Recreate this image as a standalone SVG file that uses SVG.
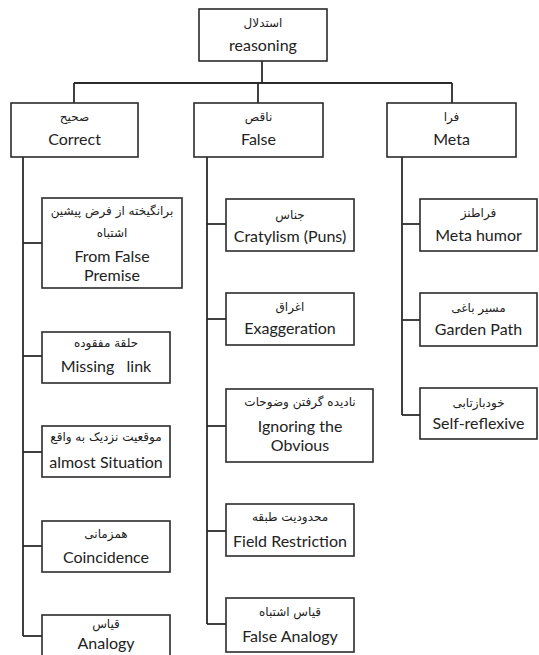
<svg xmlns="http://www.w3.org/2000/svg" width="539" height="655" viewBox="0 0 539 655">
<style>
rect{fill:#fff;stroke:#2b2b2b;stroke-width:1.6}
.c line{stroke:#2b2b2b;stroke-width:1.8;fill:none}
.en{font-family:Lato,"Open Sans","Liberation Sans",sans-serif;font-size:16px;fill:#222;text-anchor:middle}
.fa{font-family:"DejaVu Sans",sans-serif;font-size:12px;fill:#222;text-anchor:middle}
</style>
<rect x="0" y="0" width="539" height="655" style="fill:#fff;stroke:none"/>
<g class="c" id="connectors">
<line x1="262" y1="61" x2="262" y2="83"/>
<line x1="74" y1="83" x2="452" y2="83"/>
<line x1="74" y1="83" x2="74" y2="103"/>
<line x1="258" y1="83" x2="258" y2="103"/>
<line x1="452" y1="83" x2="452" y2="103"/>
<line x1="23" y1="157" x2="23" y2="636"/>
<line x1="23" y1="243" x2="42" y2="243"/>
<line x1="23" y1="356" x2="42" y2="356"/>
<line x1="23" y1="452" x2="42" y2="452"/>
<line x1="23" y1="546" x2="42" y2="546"/>
<line x1="23" y1="636" x2="42" y2="636"/>
<line x1="207" y1="157" x2="207" y2="624"/>
<line x1="207" y1="224" x2="226" y2="224"/>
<line x1="207" y1="319" x2="226" y2="319"/>
<line x1="207" y1="426" x2="226" y2="426"/>
<line x1="207" y1="531" x2="226" y2="531"/>
<line x1="207" y1="624" x2="226" y2="624"/>
<line x1="402" y1="157" x2="402" y2="415"/>
<line x1="402" y1="224" x2="420" y2="224"/>
<line x1="402" y1="320" x2="420" y2="320"/>
<line x1="402" y1="415" x2="420" y2="415"/>
</g>
<g id="root">
<rect x="199" y="9" width="128" height="52"/>
<text class="fa" x="263" y="27">استدلال</text>
<text class="en" x="263" y="51">reasoning</text>
</g>
<g id="correct">
<rect x="11" y="103" width="127" height="54"/>
<text class="fa" x="74.5" y="121">صحیح</text>
<text class="en" x="74.5" y="145">Correct</text>
</g>
<g id="false">
<rect x="194" y="103" width="129" height="54"/>
<text class="fa" x="258.5" y="121">ناقص</text>
<text class="en" x="258.5" y="145">False</text>
</g>
<g id="meta">
<rect x="387" y="103" width="129" height="54"/>
<text class="fa" x="451.5" y="121">فرا</text>
<text class="en" x="451.5" y="145">Meta</text>
</g>
<g id="from-false-premise">
<rect x="42" y="198" width="140" height="90"/>
<text class="fa" x="112" y="215">برانگیخته از فرض پیشین</text>
<text class="fa" x="112" y="237">اشتباه</text>
<text class="en" x="112" y="262">From False</text>
<text class="en" x="112" y="281">Premise</text>
</g>
<g id="missing-link">
<rect x="42" y="332" width="128" height="51"/>
<text class="fa" x="106" y="347">حلقة مفقوده</text>
<text class="en" x="106" y="372" xml:space="preserve">Missing   link</text>
</g>
<g id="almost-situation">
<rect x="42" y="426" width="128" height="51"/>
<text class="fa" x="106" y="441">موقعیت نزدیک به واقع</text>
<text class="en" x="106" y="468">almost Situation</text>
</g>
<g id="coincidence">
<rect x="42" y="521" width="128" height="51"/>
<text class="fa" x="106" y="538">همزمانی</text>
<text class="en" x="106" y="563">Coincidence</text>
</g>
<g id="analogy">
<rect x="42" y="615" width="128" height="50"/>
<text class="fa" x="106" y="628">قیاس</text>
<text class="en" x="106" y="649">Analogy</text>
</g>
<g id="cratylism">
<rect x="226" y="199" width="128" height="52"/>
<text class="fa" x="290" y="219">جناس</text>
<text class="en" x="290" y="242">Cratylism (Puns)</text>
</g>
<g id="exaggeration">
<rect x="226" y="293" width="128" height="52"/>
<text class="fa" x="290" y="311">اغراق</text>
<text class="en" x="290" y="334">Exaggeration</text>
</g>
<g id="ignoring">
<rect x="226" y="389" width="147" height="73"/>
<text class="fa" x="300" y="406">نادیده گرفتن وضوحات</text>
<text class="en" x="300" y="432">Ignoring the</text>
<text class="en" x="300" y="451">Obvious</text>
</g>
<g id="field-restriction">
<rect x="226" y="504" width="128" height="52"/>
<text class="fa" x="290" y="521">محدودیت طبقه</text>
<text class="en" x="290" y="547">Field Restriction</text>
</g>
<g id="false-analogy">
<rect x="226" y="598" width="128" height="54"/>
<text class="fa" x="290" y="616">قیاس اشتباه</text>
<text class="en" x="290" y="642">False Analogy</text>
</g>
<g id="meta-humor">
<rect x="420" y="199" width="117" height="52"/>
<text class="fa" x="478.5" y="217">فراطنز</text>
<text class="en" x="478.5" y="241">Meta humor</text>
</g>
<g id="garden-path">
<rect x="420" y="293" width="117" height="53"/>
<text class="fa" x="478.5" y="312">مسیر باغی</text>
<text class="en" x="478.5" y="335">Garden Path</text>
</g>
<g id="self-reflexive">
<rect x="420" y="388" width="117" height="51"/>
<text class="fa" x="478.5" y="407">خودبازتابی</text>
<text class="en" x="478.5" y="429">Self-reflexive</text>
</g>
</svg>
